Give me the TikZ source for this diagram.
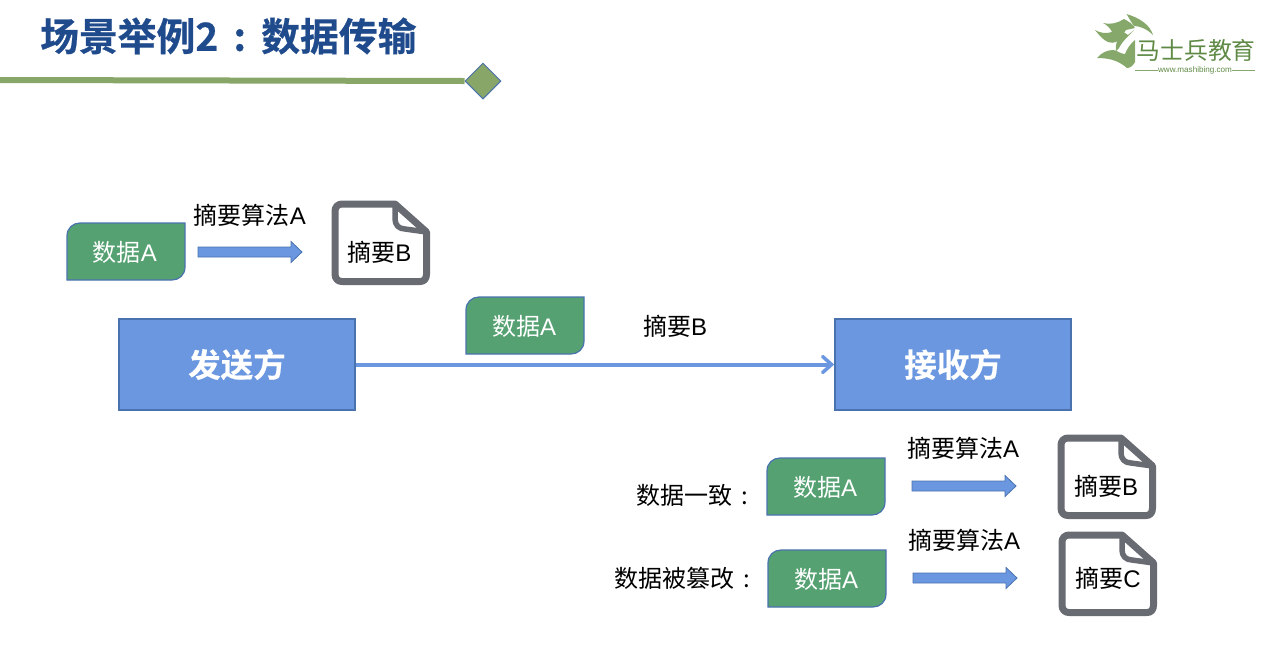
\documentclass[tikz,border=0pt]{standalone}
\usepackage{fontspec}
\usetikzlibrary{shapes.geometric,arrows.meta}
\setmainfont{Noto Sans CJK SC}
\newfontfamily\latinf{Liberation Sans}
\newfontfamily\titlef[FakeBold=0.6]{Noto Sans CJK SC Bold}
\newfontfamily\boxf[FakeBold=0.4]{Noto Sans CJK SC Bold}
\definecolor{datagreen}{HTML}{55A172}
\definecolor{boxblue}{HTML}{6A97E0}
\definecolor{edgeblue}{HTML}{4A72AE}
\definecolor{docgray}{HTML}{696B73}
\definecolor{titleblue}{HTML}{1F4A8C}
\definecolor{rulegreen}{HTML}{88A668}
\definecolor{logogreen}{HTML}{86A86A}
\definecolor{logotext}{HTML}{5F8A45}
\tikzset{
  lbl/.style={inner sep=0pt,font=\fontsize{24}{24}\selectfont,text=black},
  datatext/.style={inner sep=0pt,font=\fontsize{24}{24}\selectfont,text=white},
  bigbox/.style={draw=edgeblue,line width=1.5pt,fill=boxblue,minimum width=236pt,minimum height=91pt,inner sep=0pt,text=white,font=\boxf\fontsize{32.5}{33}\selectfont},
  datashape/.style={draw=edgeblue,line width=1.2pt,fill=datagreen},
  fatarrow/.style={draw=edgeblue,line width=0.8pt,fill=boxblue},
  docshape/.style={draw=docgray,line width=7pt,fill=white,line join=round},
  docfold/.style={draw=docgray,line width=5.5pt,line join=round},
  logofill/.style={fill=logogreen,draw=none},
}
\newcommand{\LA}{{\latinf A}}
\newcommand{\datablock}[3]{%
  \draw[datashape] (#1+13,#2) -- (#1+118,#2) -- (#1+118,#2+44)
    .. controls (#1+118,#2+52) and (#1+112,#2+57) .. (#1+105,#2+57)
    -- (#1,#2+57) -- (#1,#2+13)
    .. controls (#1,#2+5) and (#1+6,#2) .. (#1+13,#2) -- cycle;
  \node[datatext] (#3) at (#1+58,#2+29) {数据\LA};
}
\newcommand{\docicon}[2]{%
  \draw[docshape] (#1+7,#2) -- (#1+60,#2) -- (#1+91.5,#2+28) -- (#1+91.5,#2+70)
    .. controls (#1+91.5,#2+75) and (#1+89,#2+77.5) .. (#1+85,#2+77.5)
    -- (#1+7,#2+77.5)
    .. controls (#1+3,#2+77.5) and (#1,#2+75) .. (#1,#2+70)
    -- (#1,#2+7)
    .. controls (#1,#2+3) and (#1+3,#2) .. (#1+7,#2) -- cycle;
  \draw[docfold] (#1+60,#2) -- (#1+60,#2+15)
    .. controls (#1+60,#2+21) and (#1+64,#2+25) .. (#1+70,#2+25) -- (#1+91.5,#2+28);
}
\newcommand{\fatarr}[2]{%
  \draw[fatarrow] (#1,#2-5) -- (#1+93,#2-5) -- (#1+93,#2-10.5) -- (#1+104,#2)
    -- (#1+93,#2+10.5) -- (#1+93,#2+5) -- (#1,#2+5) -- cycle;
}
\begin{document}
\begin{tikzpicture}[x=1pt,y=-1pt]
\useasboundingbox (0,0) rectangle (1280,649);
% title
\node[anchor=west,inner sep=0pt,text=titleblue,font=\titlef\fontsize{38.8}{39}\selectfont] (title) at (40,36) {场景举例2\makebox[43pt][c]{:}数据传输};
\node[diamond,draw=edgeblue,line width=1pt,fill=rulegreen,minimum width=36pt,minimum height=36pt,inner sep=0pt] (gem) at (483,81) {};
\coordinate (rulestart) at (0,80);
\draw[rulegreen,line width=6pt] (rulestart) -- (gem.west);
% logo
\fill[logofill] (1126.5,14) .. controls (1140,18) and (1150,25) .. (1153,35)
  .. controls (1147,29) and (1140,26) .. (1134,26) .. controls (1131,22) and (1129,18) .. (1126.5,14) -- cycle;
\fill[logofill] (1103,23) .. controls (1110,25) and (1118,23) .. (1124,19)
  .. controls (1128,21) and (1133,24) .. (1135,28) -- (1126,30) -- (1121,37)
  .. controls (1118,42) and (1114,44) .. (1108,42) .. controls (1103,40) and (1099,35) .. (1095,30)
  .. controls (1100,33) and (1106,34) .. (1112,32) .. controls (1110,28) and (1107,25) .. (1103,23) -- cycle;
\fill[logofill] (1135,40) -- (1135,62) .. controls (1133,66) and (1130,68) .. (1127,68)
  .. controls (1120,62) and (1112,58) .. (1097,58) .. controls (1101,53) and (1107,50) .. (1113,50)
  .. controls (1117,50) and (1120,54) .. (1125,54) .. controls (1127,49) and (1130,44) .. (1135,40) -- cycle;
\fill[logofill] (1122,31) -- (1128,35) -- (1134,30) .. controls (1129,36) and (1123,40) .. (1119,48)
  -- (1116,51) .. controls (1115,46) and (1117,38) .. (1122,31) -- cycle;
\node[inner sep=0pt,anchor=west,text=logotext,font=\fontsize{23.8}{24}\selectfont] (brand) at (1136.5,50) {马士兵教育};
\node[inner sep=0pt,text=logotext,font=\latinf\fontsize{8.1}{9}\selectfont] (site) at (1195,70) {www.mashibing.com};
\coordinate (ruleL) at (1135,70);
\coordinate (ruleR) at (1255,70);
\draw[logogreen,line width=1pt] (ruleL) -- (site.west);
\draw[logogreen,line width=1pt] (site.east) -- (ruleR);
% top row
\datablock{67}{223}{d1}
\fatarr{198}{252}
\node[lbl] (algo1) at (250,215) {摘要算法\LA};
\docicon{335}{204}
\node[lbl] (doc1) at (379.5,252) {摘要{\latinf B}};
% main
\node[bigbox] (sender) at (237,364.5) {发送方};
\node[bigbox] (receiver) at (953,364.5) {接收方};
\draw[boxblue,line width=4pt,-{Straight Barb[length=9pt,width=16pt,line width=3.5pt,line cap=round]}] (sender.east) -- (receiver.west);
\datablock{466}{297}{d2}
\node[lbl] (digestmid) at (675,326) {摘要{\latinf B}};
% lower rows
\node[lbl,anchor=west] (same) at (636,495) {数据一致\makebox[26pt][c]{:}};
\datablock{767}{458}{d3}
\fatarr{912}{486}
\node[lbl] (algo2) at (963,448) {摘要算法\LA};
\docicon{1061}{438}
\node[lbl] (doc2) at (1106,486) {摘要{\latinf B}};
\node[lbl,anchor=west] (tamper) at (614,578) {数据被篡改\makebox[26pt][c]{:}};
\datablock{768}{550}{d4}
\fatarr{913}{578}
\node[lbl] (algo3) at (964,540) {摘要算法\LA};
\docicon{1062}{535}
\node[lbl] (doc3) at (1108,578) {摘要{\latinf C}};
\end{tikzpicture}
\end{document}
